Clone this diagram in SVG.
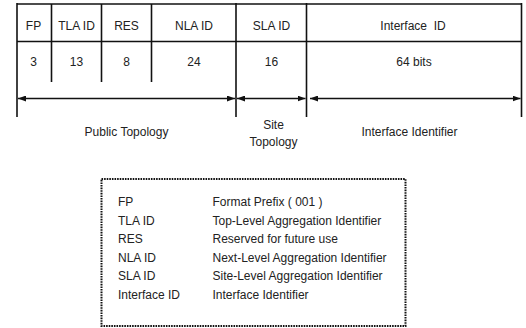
<svg xmlns="http://www.w3.org/2000/svg" width="526" height="328" viewBox="0 0 526 328">
<defs>
<style>
text{font-family:"Liberation Sans",Arial,sans-serif;font-size:12px;fill:#222;white-space:pre}
.c{text-anchor:middle}
.div{stroke:#111;stroke-width:1.6;fill:none}
.arr{stroke:#111;stroke-width:1.3;fill:none;marker-start:url(#ah);marker-end:url(#ah)}
.dot{fill:none;stroke:#111;stroke-width:2;stroke-dasharray:1.6 1}
</style>
<marker id="ah" viewBox="0 0 8 6" refX="8" refY="3" markerWidth="8" markerHeight="6" markerUnits="userSpaceOnUse" orient="auto-start-reverse">
<path d="M0,0 L8,3 L0,6 Z" fill="#111"/>
</marker>
</defs>
<rect width="526" height="328" fill="#fff"/>
<g id="table">
<line class="div" x1="17" y1="4" x2="521.5" y2="4" stroke-width="2"/>
<line class="div" x1="17" y1="41.5" x2="521.5" y2="41.5" stroke-width="2"/>
<line class="div" x1="17" y1="3" x2="17" y2="117" stroke-width="2"/>
<line class="div" x1="521.5" y1="3" x2="521.5" y2="117" stroke-width="2"/>
<line class="div" x1="236" y1="3" x2="236" y2="117" stroke-width="1.8"/>
<line class="div" x1="306.5" y1="3" x2="306.5" y2="117" stroke-width="1.8"/>
<line class="div" x1="51.5" y1="4" x2="51.5" y2="82"/>
<line class="div" x1="101.5" y1="4" x2="101.5" y2="82"/>
<line class="div" x1="151.5" y1="4" x2="151.5" y2="82"/>
</g>
<g id="fields">
<text class="c" x="33.5" y="29.5">FP</text>
<text class="c" x="76.5" y="29.5">TLA ID</text>
<text class="c" x="126.5" y="29.5">RES</text>
<text class="c" x="194" y="29.5">NLA ID</text>
<text class="c" x="271.5" y="29.5">SLA ID</text>
<text class="c" x="413" y="29.5">Interface  ID</text>
<text class="c" x="33.5" y="66">3</text>
<text class="c" x="76.5" y="66">13</text>
<text class="c" x="126.5" y="66">8</text>
<text class="c" x="194" y="66">24</text>
<text class="c" x="271.5" y="66">16</text>
<text class="c" x="414" y="66">64 bits</text>
</g>
<g id="connectors">
<line class="arr" x1="18" y1="98.5" x2="235" y2="98.5"/>
<line class="arr" x1="237" y1="98.5" x2="305.5" y2="98.5"/>
<line class="arr" x1="310" y1="98.5" x2="520.5" y2="98.5"/>
</g>
<g id="labels">
<text class="c" x="126.5" y="135.5">Public Topology</text>
<text class="c" x="273.5" y="129">Site</text>
<text class="c" x="273.5" y="146">Topology</text>
<text class="c" x="409.5" y="135.5">Interface Identifier</text>
</g>
<g id="legend">
<rect class="dot" x="101.5" y="179" width="304" height="147"/>
<text x="118" y="206">FP</text>
<text x="118" y="224.5">TLA ID</text>
<text x="118" y="243">RES</text>
<text x="118" y="261.5">NLA ID</text>
<text x="118" y="280">SLA ID</text>
<text x="118" y="298.5">Interface ID</text>
<text x="212.5" y="206">Format Prefix ( 001 )</text>
<text x="212.5" y="224.5">Top-Level Aggregation Identifier</text>
<text x="212.5" y="243">Reserved for future use</text>
<text x="212.5" y="261.5">Next-Level Aggregation Identifier</text>
<text x="212.5" y="280">Site-Level Aggregation Identifier</text>
<text x="212.5" y="298.5">Interface Identifier</text>
</g>
</svg>
